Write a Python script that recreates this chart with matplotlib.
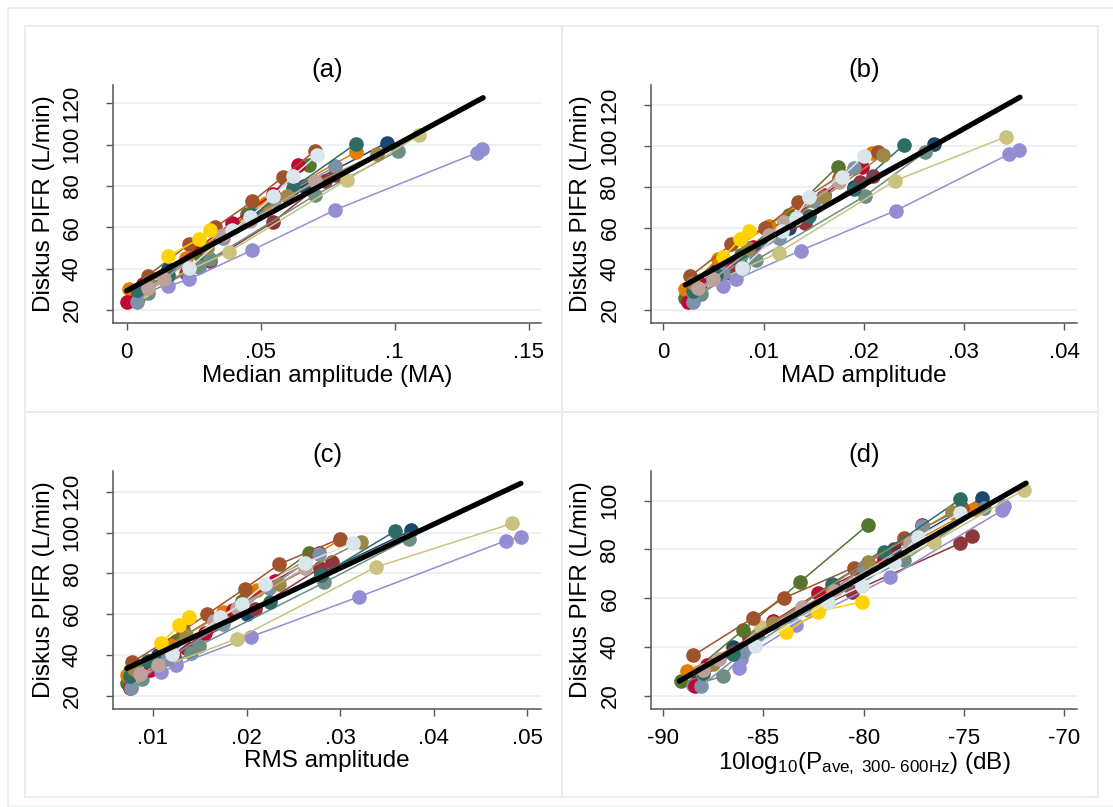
import matplotlib.pyplot as plt
from matplotlib.patches import Rectangle

plt.rcParams["font.family"] = ["Liberation Sans", "DejaVu Sans"]
plt.rcParams["axes.unicode_minus"] = False
plt.rcParams["mathtext.fontset"] = "custom"
plt.rcParams["mathtext.rm"] = "Liberation Sans"
plt.rcParams["mathtext.it"] = "Liberation Sans:italic"

# one entry per subject (Stata s2color order)
colors = ["#1a476f", "#90353b", "#55752f", "#e37e00", "#6e8e84", "#c10534",
          "#938dd2", "#cac27e", "#a0522d", "#7b92a8", "#2d6d66", "#9c8847",
          "#bfa19c", "#ffd200", "#d9e6eb"]

# Diskus PIFR (L/min) per subject
pifr = [
    [28, 40, 60, 80, 101],
    [29, 38, 43.5, 62.5, 82.5, 85.5],
    [26, 47, 66.5, 90],
    [30, 45, 61, 72, 96.5],
    [24.5, 28, 41, 44.5, 75.5, 97],
    [24, 32.5, 50.5, 62, 76, 90],
    [31.5, 35, 49, 68.5, 96, 98],
    [29, 48, 83, 104.5],
    [36.5, 52, 60, 72.5, 84.5, 97],
    [24, 38, 55, 73, 89.5],
    [29.5, 37, 66, 79, 100.5],
    [33, 50, 75, 95.5],
    [30.5, 35, 56.5, 63, 82.5],
    [46, 54.5, 58.5],
    [40.5, 58.5, 65, 75, 85, 95],
]

median_amp = [
    [.003, .0155, .040, .066, .0972],
    [.006, .022, .0311, .0545, .074, .0779],
    [.0041, .027, .045, .068],
    [.001, .022, .040, .052, .0856],
    [.003, .0078, .027, .0311, .0703, .1013],
    [.0, .006, .0271, .0392, .0545, .064],
    [.0155, .0234, .0469, .0779, .1306, .1327],
    [.006, .038, .0821, .1091],
    [.0078, .0234, .033, .0469, .0584, .0702],
    [.004, .015, .036, .055, .0779],
    [.004, .0155, .047, .062, .0856],
    [.0078, .030, .060, .0933],
    [.0078, .014, .036, .046, .0703],
    [.0155, .0271, .0311],
    [.0234, .0392, .046, .0545, .0622, .071],
]

mad_amp = [
    [.0026, .0053, .0125, .0190, .0270],
    [.0030, .0067, .0075, .0141, .0196, .0209],
    [.0022, .0078, .0125, .0174],
    [.0022, .0055, .0105, .0135, .0208],
    [.0029, .0038, .0080, .0093, .0201, .0261],
    [.0025, .0037, .0090, .0120, .0160, .0198],
    [.0060, .0073, .0137, .0232, .0345, .0355],
    [.0030, .0115, .0231, .0342],
    [.0027, .0068, .0101, .0134, .0175, .0214],
    [.0030, .0060, .0115, .0150, .0190],
    [.0030, .0053, .0145, .0190, .0240],
    [.0030, .0085, .0160, .0219],
    [.0035, .0050, .0105, .0120, .0175],
    [.0060, .0077, .0086],
    [.0079, .0118, .0132, .0145, .0178, .0200],
]

rms_amp = [
    [.0078, .0105, .0200, .0280, .0376],
    [.0078, .0124, .0135, .0209, .0278, .0291],
    [.0072, .0125, .0195, .0267],
    [.0072, .0118, .0175, .0211, .0300],
    [.0077, .0088, .0141, .0149, .0283, .0373],
    [.0075, .0097, .0156, .0185, .0230, .0277],
    [.0109, .0125, .0205, .0320, .0477, .0493],
    [.0080, .0190, .0338, .0484],
    [.0078, .0132, .0158, .0198, .0235, .0300],
    [.0077, .0115, .0175, .0224, .0277],
    [.0075, .0095, .0225, .0280, .0358],
    [.0080, .0135, .0235, .0322],
    [.0086, .0105, .0165, .0190, .0262],
    [.0109, .0128, .0139],
    [.0120, .0172, .0195, .0220, .0262, .0314],
]

power_db = [
    [-88.3, -86.5, -81.8, -78.5, -74.1],
    [-88.1, -86.5, -85.7, -80.6, -75.2, -74.6],
    [-89.1, -86.0, -83.2, -79.8],
    [-88.8, -85.3, -82.0, -80.0, -74.5],
    [-88.5, -87.0, -85.6, -85.3, -78.0, -74.0],
    [-88.4, -87.8, -84.5, -82.3, -79.0, -77.1],
    [-86.2, -86.1, -83.4, -78.7, -73.1, -73.0],
    [-88.0, -85.1, -76.5, -72.0],
    [-88.5, -85.5, -84.0, -80.5, -78.0, -75.1],
    [-88.1, -86.0, -82.8, -80.0, -77.1],
    [-88.0, -86.5, -81.6, -79.0, -75.2],
    [-87.5, -84.5, -79.8, -75.6],
    [-88.0, -87.2, -83.1, -81.5, -77.7],
    [-83.9, -82.3, -80.1],
    [-85.4, -81.8, -80.1, -78.5, -77.3, -75.2],
]

# fitted lines (end points)
fit_a_x, fit_a_y = [0, .133], [29.3, 122.7]
fit_b_x, fit_b_y = [.0022, .0356], [32.2, 123.8]
fit_c_x, fit_c_y = [.0072, .0493], [33.4, 124.1]
fit_d_x, fit_d_y = [-89.2, -71.9], [26.0, 107.2]

W, H = 1113, 807
grid_color = "#eaf1f3"
frame_color = "#e4ecee"


def px_axes(fig, left, top, right, bottom):
    return fig.add_axes([left / W, 1 - bottom / H, (right - left) / W, (bottom - top) / H])


def panel(ax, title, xs, fit_x, fit_y, xlabel, xticks, xticklabels, yticks, xlim, ylim):
    for c, x, y in zip(colors, xs, pifr):
        ax.plot(x, y, "o-", color=c, lw=1.1, ms=9.5, mec=c, zorder=3)
    ax.plot(fit_x, fit_y, color="black", lw=3.8, solid_capstyle="round", zorder=5)
    ax.set_xlim(xlim)
    ax.set_ylim(ylim)
    ax.set_xticks(xticks)
    ax.set_xticklabels(xticklabels)
    ax.set_yticks(yticks)
    ax.set_yticklabels([str(t) for t in yticks], rotation=90, va="center")
    for t in yticks:
        ax.axhline(t, color=grid_color, lw=1.3, zorder=1)
    for s in ["top", "right"]:
        ax.spines[s].set_visible(False)
    for s in ["left", "bottom"]:
        ax.spines[s].set_color("#555555")
        ax.spines[s].set_linewidth(1.1)
    ax.tick_params(axis="both", colors="#555555", labelcolor="black", labelsize=16,
                   length=5, width=1)
    ax.tick_params(axis="y", pad=17)
    ax.tick_params(axis="x", pad=9)
    ax.set_title(title, fontsize=18.5, pad=6)
    ax.set_xlabel(xlabel, fontsize=17.5, labelpad=1)
    ax.set_ylabel("Diskus PIFR (L/min)", fontsize=17.5, labelpad=5)


fig = plt.figure(figsize=(W / 100, H / 100), dpi=100)
fig.patches.append(Rectangle((8 / W, 0), 1.2, 1 - 8 / H, transform=fig.transFigure,
                             fill=False, ec=frame_color, lw=1.2))
for (l, t, r, b) in [(25, 26, 562, 412), (562, 26, 1098, 412),
                     (25, 412, 562, 797), (562, 412, 1098, 797)]:
    fig.patches.append(Rectangle((l / W, 1 - b / H), (r - l) / W, (b - t) / H,
                                 transform=fig.transFigure, fill=False,
                                 ec=frame_color, lw=1.2))

ax_a = px_axes(fig, 113.3, 85, 541, 322.7)
panel(ax_a, "(a)", median_amp, fit_a_x, fit_a_y, "Median amplitude (MA)",
      [0, .05, .1, .15], ["0", ".05", ".1", ".15"], [20, 40, 60, 80, 100, 120],
      (-0.0050, 0.1546), (13.86, 128.85))

ax_b = px_axes(fig, 651, 85, 1077, 322.7)
panel(ax_b, "(b)", mad_amp, fit_b_x, fit_b_y, "MAD amplitude",
      [0, .01, .02, .03, .04], ["0", ".01", ".02", ".03", ".04"], [20, 40, 60, 80, 100, 120],
      (-0.00123, 0.04129), (13.8, 129.76))

ax_c = px_axes(fig, 113.3, 470.7, 541, 708.5)
panel(ax_c, "(c)", rms_amp, fit_c_x, fit_c_y, "RMS amplitude",
      [.01, .02, .03, .04, .05], [".01", ".02", ".03", ".04", ".05"], [20, 40, 60, 80, 100, 120],
      (0.00576, 0.05145), (13.73, 130.3))

ax_d = px_axes(fig, 651, 470.7, 1077, 708.5)
panel(ax_d, "(d)", power_db, fit_d_x, fit_d_y,
      "10log$_{\\mathrm{10}}$(P$_{\\mathrm{ave,\\ 300\u2010\\ 600Hz}}$) (dB)",
      [-90, -85, -80, -75, -70], ["-90", "-85", "-80", "-75", "-70"], [20, 40, 60, 80, 100],
      (-90.61, -69.36), (14.75, 112.3))

fig.savefig("out.png", dpi=100, facecolor="white")
